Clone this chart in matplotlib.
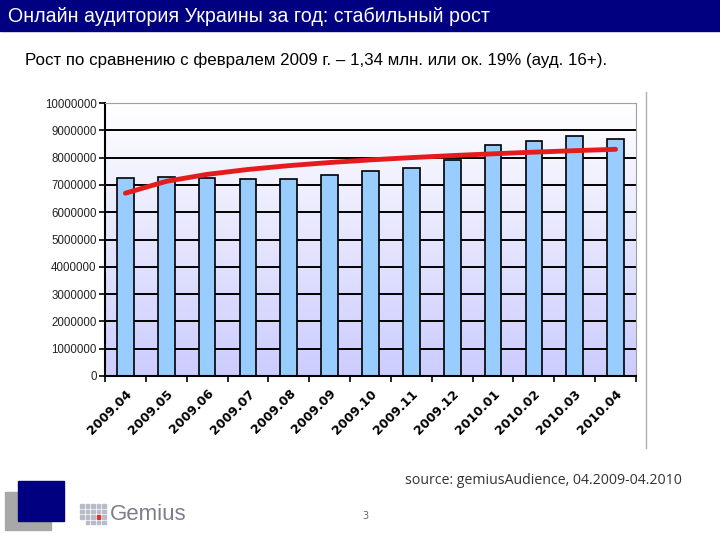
import numpy as np
import matplotlib.pyplot as plt
from matplotlib.patches import Rectangle

# data
months = ['2009.04', '2009.05', '2009.06', '2009.07', '2009.08', '2009.09', '2009.10',
          '2009.11', '2009.12', '2010.01', '2010.02', '2010.03', '2010.04']
audience = [7240000, 7300000, 7260000, 7200000, 7230000, 7380000, 7510000,
            7610000, 7920000, 8460000, 8610000, 8780000, 8690000]
yticks = list(range(0, 10000001, 1000000))

title = 'Онлайн аудитория Украины за год: стабильный рост'
subtitle = 'Рост по сравнению с февралем 2009 г. – 1,34 млн. или ок. 19% (ауд. 16+).'
source = 'source: gemiusAudience, 04.2009-04.2010'

x = np.arange(len(months))
# logarithmic trend line, as Excel draws it
b, a = np.polyfit(np.log(x + 1), audience, 1)
trend = a + b * np.log(x + 1)

fig = plt.figure(figsize=(7.2, 5.4), dpi=100)

# title bar
fig.patches.append(Rectangle((0, 1 - 31/540), 1, 31/540, transform=fig.transFigure,
                             color='#000080', zorder=0))
fig.text(8/720, 1 - 16/540, title, color='white', fontsize=14.1, va='center',
         family='Liberation Sans')
fig.text(25/720, 1 - 60/540, subtitle, fontsize=12.2, va='center', family='Liberation Sans')

ax = fig.add_axes([105/720, 1 - 376/540, 531/720, 273/540])

# gradient background
grad = np.linspace(0, 1, 256).reshape(-1, 1)
top = np.array([1.0, 1.0, 1.0])
bot = np.array([204, 204, 255]) / 255
img = top + (bot - top) * grad
ax.imshow(img.reshape(256, 1, 3), extent=(-0.5, len(months) - 0.5, 0, 10000000),
          aspect='auto', zorder=0, origin='upper')

for t in yticks[1:-1]:
    ax.axhline(t, color='black', lw=1.4, zorder=1)

ax.bar(x, audience, width=0.41, color='#99ccff', edgecolor='black', lw=1.2, zorder=2)
ax.plot(x, trend, color='#e31d1d', lw=3.5, solid_capstyle='round', zorder=3)

ax.set_xlim(-0.5, len(months) - 0.5)
ax.set_ylim(0, 10000000)
ax.set_yticks(yticks)
ax.set_yticklabels([str(v) for v in yticks], fontsize=8.3, family='Liberation Sans',
                   color='#222222')
ax.set_xticks(x)
ax.set_xticklabels(months, rotation=45, ha='right', rotation_mode='anchor',
                   fontsize=9, fontweight='bold', family='DejaVu Sans')
ax.set_xticks(np.arange(len(months) + 1) - 0.5, minor=True)
ax.tick_params(axis='x', which='major', length=0, pad=8)
ax.tick_params(axis='x', which='minor', length=4, width=1.2, direction='out')
ax.tick_params(axis='y', length=4, width=1.2, direction='out', pad=2)
ax.spines['left'].set_linewidth(1.5)
ax.spines['bottom'].set_linewidth(1.5)
ax.spines['top'].set_color('#a0a0a0')
ax.spines['right'].set_color('#a0a0a0')

# slide decoration
fig.add_artist(plt.Line2D([646/720, 646/720], [1 - 448/540, 1 - 92/540],
                          color='#b0b0b0', lw=1))
fig.patches.append(Rectangle((5/720, 1 - 530/540), 46/720, 38/540,
                             transform=fig.transFigure, color='#a8a8a8', zorder=1))
fig.patches.append(Rectangle((18/720, 1 - 521/540), 46/720, 40/540,
                             transform=fig.transFigure, color='#000080', zorder=2))
# gemius logo squares
for i in range(5):
    for j in range(4):
        if i + j < 1:
            continue
        c = '#e03030' if (i == 3 and j == 1) else '#b8bcc8'
        fig.patches.append(Rectangle(((80 + i*5.5)/720, 1 - (524 - j*5.5)/540), 3.5/720, 3.5/540,
                                     transform=fig.transFigure, color=c, zorder=2))
fig.text(110/720, 1 - 515/540, 'Gemius', fontsize=16, color='#7a7f8a', va='center',
         family='Liberation Sans')
fig.text(362/720, 1 - 516/540, '3', fontsize=7, color='#666666', va='center')
fig.text(405/720, 1 - 480/540, source, fontsize=10.2, color='#333333', va='center',
         family='Open Sans')

fig.savefig('out.png', dpi=100)
